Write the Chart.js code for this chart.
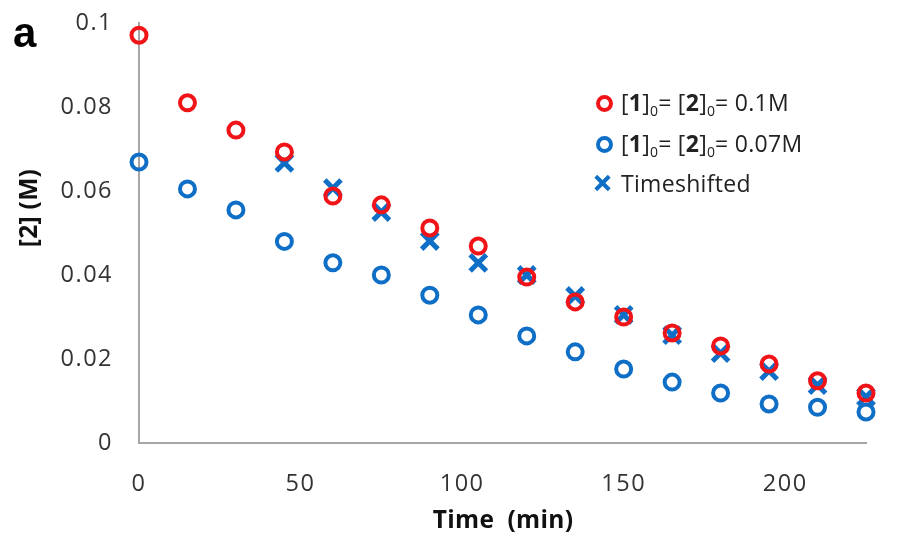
<!DOCTYPE html>
<html>
<head>
<meta charset="utf-8">
<script src="https://cdn.jsdelivr.net/npm/chart.js@4.4.1/dist/chart.umd.min.js"></script>
<style>
  body { margin: 0; background: #fff; }
  #wrap { position: relative; width: 904px; height: 533px; }
  #panel { position: absolute; left: 13px; top: 9px; font: bold 42px "Liberation Sans", Arial, sans-serif; color: #000; }
  .atitle { position: absolute; white-space: nowrap; font: bold 24.5px "Open Sans", Lato, sans-serif; letter-spacing: 0.3px; color: #111; }
  #ytitle { left: 27px; top: 208px; transform: translate(-50%, -50%) rotate(-90deg); }
  #xtitle { left: 503px; top: 518px; transform: translate(-50%, -50%); }
  #legend { position: absolute; left: 592px; top: 82px; font: 23px "Open Sans", Lato, sans-serif; color: #222; letter-spacing: 0.3px; }
  .row { height: 41px; display: flex; align-items: center; white-space: nowrap; }
  .row:nth-child(2) { height: 42px; }
  .row:nth-child(3) { height: 36px; }
  .mk { width: 24px; height: 24px; position: relative; margin-right: 5px; }
  .ring { position: absolute; left: 4px; top: 4px; width: 9px; height: 9px; border-radius: 50%; border: 4px solid; }
  .cross::before, .cross::after { content: ""; position: absolute; left: 1px; top: 10px; width: 19px; height: 4px; background: #0f6fc6; }
  .cross::before { transform: rotate(45deg); }
  .cross::after { transform: rotate(-45deg); }
  sub { font-size: 14px; vertical-align: -5px; letter-spacing: 0; }
</style>
</head>
<body>
<div id="wrap">
  <canvas id="chart" width="904" height="533"></canvas>
  <div id="panel">a</div>
  <div id="ytitle" class="atitle">[2] (M)</div>
  <div id="xtitle" class="atitle">Time&nbsp; (min)</div>
  <div id="legend"></div>
</div>
<script>
// --- DONNEES ---
const times = [0, 15, 30, 45, 60, 75, 90, 105, 120, 135, 150, 165, 180, 195, 210, 225];
const conc01 = [0.0971, 0.081, 0.0745, 0.0693, 0.0588, 0.0567, 0.0512, 0.0469, 0.0395, 0.0336, 0.030, 0.0262, 0.0231, 0.0188, 0.0148, 0.0119];
const conc007 = [0.0669, 0.0605, 0.0555, 0.048, 0.0429, 0.040, 0.0352, 0.0305, 0.0255, 0.0217, 0.0176, 0.0145, 0.0119, 0.0093, 0.0085, 0.0074];
const shiftedTimes = [45, 60, 75, 90, 105, 120, 135, 150, 165, 180, 195, 210, 225];
const shiftedConc = [0.0667, 0.0607, 0.055, 0.0481, 0.0429, 0.040, 0.035, 0.0305, 0.0257, 0.0214, 0.0171, 0.0138, 0.011];
const xTicks = [0, 50, 100, 150, 200];
const yTicks = [0, 0.02, 0.04, 0.06, 0.08, 0.1];
const yTickLabels = ['0', '0.02', '0.04', '0.06', '0.08', '0.1'];

const RED = '#f01418';
const BLUE = '#0f6fc6';

const toPoints = (xs, ys) => xs.map((x, i) => ({ x: x, y: ys[i] }));

// --- LEGENDE HTML (indices et gras) ---
const legendItems = [
    { mark: 'ring', color: RED, html: '[<b>1</b>]<sub>0</sub>= [<b>2</b>]<sub>0</sub>= 0.1M' },
    { mark: 'ring', color: BLUE, html: '[<b>1</b>]<sub>0</sub>= [<b>2</b>]<sub>0</sub>= 0.07M' },
    { mark: 'cross', color: BLUE, html: 'Timeshifted' }
];
document.getElementById('legend').innerHTML = legendItems.map(it =>
    `<div class="row"><div class="mk ${it.mark === 'cross' ? 'cross' : ''}">` +
    (it.mark === 'ring' ? `<div class="ring" style="border-color:${it.color}"></div>` : '') +
    `</div><span>${it.html}</span></div>`
).join('');

// espacement des lettres des graduations (la police d'origine est plus large)
const letterSpacingPlugin = {
    id: 'letterSpacing',
    beforeDraw: chart => { chart.ctx.letterSpacing = '1.5px'; },
    afterDraw: chart => { chart.ctx.letterSpacing = '0px'; }
};

// --- GRAPHIQUE ---
const tickFont = { family: '"Open Sans", Lato, sans-serif', size: 23.5 };

new Chart(document.getElementById('chart').getContext('2d'), {
    type: 'scatter',
    data: {
        datasets: [
            { label: '0.1M', data: toPoints(times, conc01), pointStyle: 'circle', pointRadius: 7.5, borderWidth: 4, borderColor: RED, backgroundColor: 'rgba(0,0,0,0)' },
            { label: '0.07M', data: toPoints(times, conc007), pointStyle: 'circle', pointRadius: 7.5, borderWidth: 4, borderColor: BLUE, backgroundColor: 'rgba(0,0,0,0)' },
            { label: 'Timeshifted', data: toPoints(shiftedTimes, shiftedConc), pointStyle: 'crossRot', pointRadius: 11.5, borderWidth: 5, borderColor: BLUE, backgroundColor: BLUE }
        ]
    },
    plugins: [letterSpacingPlugin],
    options: {
        responsive: false,
        animation: false,
        clip: false,
        layout: { padding: { left: 0, right: 38, top: 23, bottom: 0 } },
        plugins: { legend: { display: false }, tooltip: { enabled: false } },
        elements: { point: { hoverRadius: 7.5 } },
        scales: {
            x: {
                type: 'linear', min: 0, max: 225,
                afterBuildTicks: s => { s.ticks = xTicks.map(v => ({ value: v })); },
                afterFit: s => { s.height = 90; s.paddingLeft = 0; s.paddingRight = 0; },
                grid: { display: false, drawTicks: false },
                border: { color: '#a6a6a6', width: 2 },
                ticks: { padding: 27, color: '#333', font: tickFont, maxRotation: 0 }
            },
            y: {
                min: 0, max: 0.1,
                afterBuildTicks: s => { s.ticks = yTicks.map(v => ({ value: v })); },
                afterFit: s => { s.width = 139; s.paddingTop = 0; s.paddingBottom = 0; },
                grid: { display: false, drawTicks: false },
                border: { color: '#a6a6a6', width: 2 },
                ticks: { padding: 26, color: '#333', font: tickFont, callback: (v, i) => yTickLabels[i] }
            }
        }
    }
});
</script>
</body>
</html>
